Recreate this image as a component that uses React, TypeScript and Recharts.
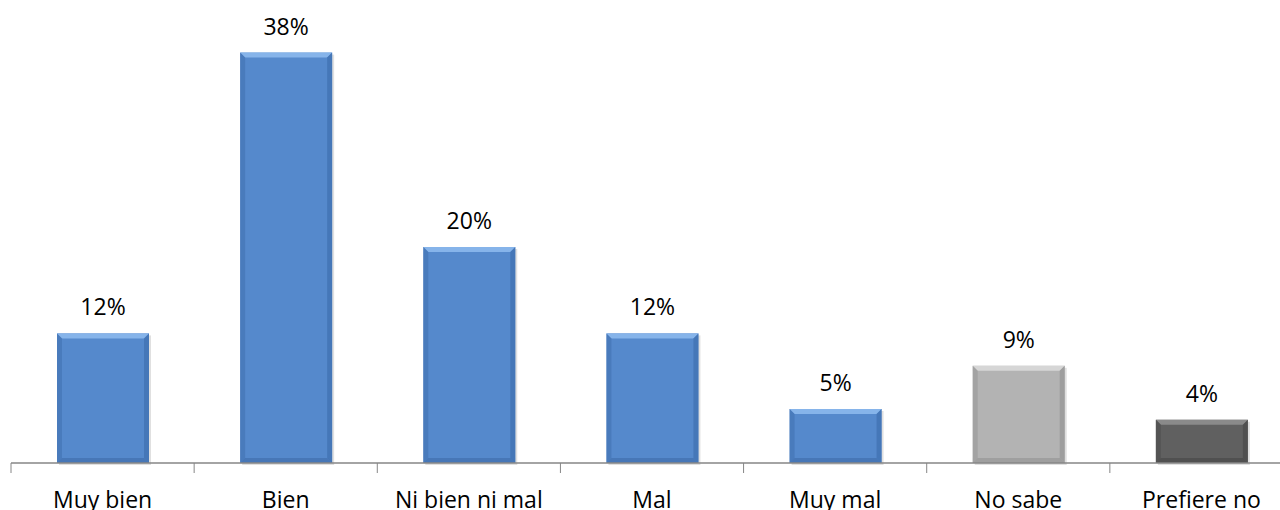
import { BarChart, Bar, XAxis, YAxis, Cell, LabelList } from "recharts";

const categories = [
  "Muy bien",
  "Bien",
  "Ni bien ni mal",
  "Mal",
  "Muy mal",
  "No sabe",
  "Prefiere no",
];
const percentages = [12, 38, 20, 12, 5, 9, 4];
const barColors = ["blue", "blue", "blue", "blue", "blue", "gray", "dark"];

const palette: Record<string, { main: string; top: string; side: string; bottom: string }> = {
  blue: { main: "#5589CC", top: "#86B4EA", side: "#3F6FAF", bottom: "#3A66A2" },
  gray: { main: "#B3B3B3", top: "#D6D6D6", side: "#969696", bottom: "#8C8C8C" },
  dark: { main: "#606060", top: "#8A8A8A", side: "#4A4A4A", bottom: "#404040" },
};

const data = categories.map((name, i) => ({
  name,
  value: percentages[i],
  tone: barColors[i],
}));

const CHART_W = 1300;
const MARGIN_L = 11;
const MARGIN_R = 7;
const STEP = (CHART_W - MARGIN_L - MARGIN_R) / categories.length;
const FONT = "'Open Sans', sans-serif";

function BevelBar(props: any) {
  const { x, y, width, height, payload } = props;
  if (!height || height <= 0) return null;
  const c = palette[payload.tone];
  const b = 5;
  return (
    <g>
      <rect x={x + 2} y={y + 2} width={width} height={height} fill="#000" opacity={0.12} />
      <rect x={x} y={y} width={width} height={height} fill={c.main} />
      <polygon
        points={`${x},${y} ${x + width},${y} ${x + width - b},${y + b} ${x + b},${y + b}`}
        fill={c.top}
      />
      <polygon
        points={`${x},${y} ${x + b},${y + b} ${x + b},${y + height - b} ${x},${y + height}`}
        fill={c.side}
        opacity={0.55}
      />
      <polygon
        points={`${x + width},${y} ${x + width - b},${y + b} ${x + width - b},${y + height - b} ${x + width},${y + height}`}
        fill={c.side}
        opacity={0.7}
      />
      <polygon
        points={`${x},${y + height} ${x + b},${y + height - b} ${x + width - b},${y + height - b} ${x + width},${y + height}`}
        fill={c.bottom}
        opacity={0.5}
      />
    </g>
  );
}

function CategoryTick(props: any) {
  const { x, y, payload } = props;
  const left = x - STEP / 2;
  const right = x + STEP / 2;
  return (
    <g>
      <line x1={left} y1={463} x2={left} y2={473} stroke="#868686" strokeWidth={1} />
      {payload.index === categories.length - 1 && (
        <line x1={right} y1={463} x2={right} y2={473} stroke="#868686" />
      )}
      <text x={x} y={y + 37} textAnchor="middle" fontFamily={FONT} fontSize={23} fill="#000">
        {payload.value}
      </text>
    </g>
  );
}

export default function App() {
  return (
    <div
      style={{
        position: "absolute",
        left: 0,
        top: 0,
        width: 1280,
        height: 510,
        overflow: "hidden",
        background: "#fff",
      }}
    >
      <BarChart
        width={CHART_W}
        height={510}
        data={data}
        barSize={92}
        margin={{ top: 31, right: MARGIN_R, left: MARGIN_L, bottom: 0 }}
      >
        <XAxis
          dataKey="name"
          height={47}
          interval={0}
          tickLine={false}
          axisLine={{ stroke: "#868686", strokeWidth: 1.5 }}
          tick={<CategoryTick />}
        />
        <YAxis hide domain={[0, 40]} />
        <Bar dataKey="value" shape={<BevelBar />} isAnimationActive={false}>
          {data.map((d) => (
            <Cell key={d.name} fill={palette[d.tone].main} />
          ))}
          <LabelList
            dataKey="value"
            position="top"
            offset={18}
            formatter={(v: any) => `${v}%`}
            style={{ fontFamily: FONT, fontSize: 23, fill: "#000" }}
          />
        </Bar>
      </BarChart>
    </div>
  );
}
